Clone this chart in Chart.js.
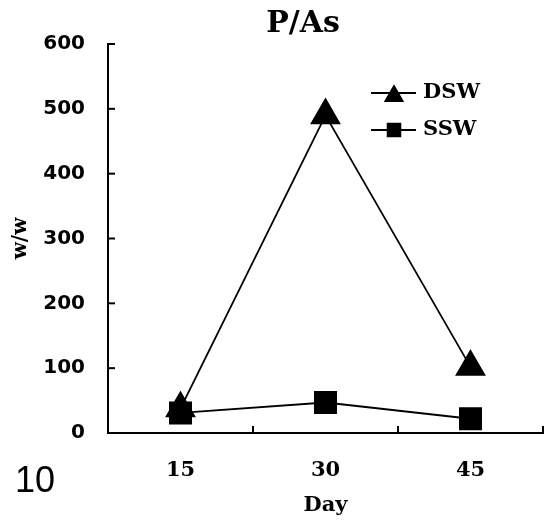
<!DOCTYPE html>
<html><head><meta charset="utf-8">
<script src="https://cdn.jsdelivr.net/npm/chart.js@4/dist/chart.umd.min.js"></script>
<style>
html,body{margin:0;padding:0;background:#fff;}
#wrap{position:relative;width:550px;height:520px;}
#fig{position:absolute;left:15px;top:462px;font:36px "Liberation Sans",Arial,sans-serif;color:#000;line-height:1;}
</style></head><body>
<div id="wrap"><canvas id="c" width="550" height="520"></canvas><div id="fig">10</div></div>
<script>
const days = ['15', '30', '45'];
const dsw = [38, 490, 102];
const ssw = [31, 47, 22];
const yMin = 0, yMax = 600, yStep = 100;
const seriesNames = ['DSW', 'SSW'];
const chartTitle = 'P/As';
const xTitle = 'Day';
const yTitle = 'w/w';

const inwardTicks = {
  id: 'inwardTicks',
  afterDraw(chart) {
    const {ctx, scales: {x, y}} = chart;
    ctx.save();
    ctx.strokeStyle = '#000';
    ctx.lineWidth = 2;
    const L = 7;
    y.ticks.forEach(t => {
      const py = y.getPixelForValue(t.value);
      ctx.beginPath(); ctx.moveTo(y.right, py); ctx.lineTo(y.right + L, py); ctx.stroke();
    });
    for (let i = 1; i <= days.length; i++) {
      const px = x.getPixelForValue(i - 0.5);
      ctx.beginPath(); ctx.moveTo(px, x.top); ctx.lineTo(px, x.top - L); ctx.stroke();
    }
    ctx.restore();
  }
};

const titleAndLegend = {
  id: 'titleAndLegend',
  afterDraw(chart) {
    const ctx = chart.ctx;
    ctx.save();
    ctx.fillStyle = '#000';
    ctx.font = 'bold 30px "DejaVu Serif"';
    ctx.textAlign = 'center';
    ctx.textBaseline = 'middle';
    ctx.fillText(chartTitle, 303, 24);
    chart.data.datasets.forEach((ds, i) => {
      const yy = 93 + i * 37;
      ctx.strokeStyle = '#000'; ctx.fillStyle = '#000'; ctx.lineWidth = 1.8;
      ctx.beginPath(); ctx.moveTo(371, yy); ctx.lineTo(416, yy); ctx.stroke();
      Chart.helpers.drawPoint(ctx, {pointStyle: ds.pointStyle, radius: i === 0 ? 10 : 9, borderWidth: 1, rotation: 0}, 394, yy + (i === 0 ? 3 : 0));
      ctx.font = 'bold 21px "DejaVu Serif"';
      ctx.textBaseline = 'middle';
      ctx.textAlign = 'left';
      ctx.fillText(ds.label, 423, yy);
    });
    ctx.restore();
  }
};

new Chart(document.getElementById('c'), {
  type: 'line',
  data: {
    labels: days,
    datasets: [
      {label: seriesNames[0], data: dsw, pointStyle: 'triangle', pointRadius: 16, borderColor: '#000', backgroundColor: '#000', pointBackgroundColor: '#000', pointBorderColor: '#000', borderWidth: 1.8, tension: 0},
      {label: seriesNames[1], data: ssw, pointStyle: 'rect', pointRadius: 15, borderColor: '#000', backgroundColor: '#000', pointBackgroundColor: '#000', pointBorderColor: '#000', borderWidth: 1.8, tension: 0}
    ]
  },
  options: {
    responsive: false,
    animation: false,
    devicePixelRatio: 1,
    events: [],
    layout: {autoPadding: false, padding: {left: 0, right: 7, top: 44, bottom: 0}},
    plugins: {
      legend: {display: false},
      tooltip: {enabled: false},
      title: {display: false}
    },
    scales: {
      x: {
        type: 'category',
        offset: true,
        grid: {display: true, offset: true, drawOnChartArea: false, drawTicks: false},
        border: {display: true, color: '#000', width: 2},
        ticks: {color: '#000', font: {family: 'DejaVu Serif', weight: 'bold', size: 21}, padding: 25},
        title: {display: true, text: xTitle, color: '#000', font: {family: 'DejaVu Serif', weight: 'bold', size: 21}, padding: {top: 0, bottom: 2}},
        afterFit(s) { s.height = 87; }
      },
      y: {
        min: yMin, max: yMax,
        grid: {display: true, drawOnChartArea: false, drawTicks: false},
        border: {display: true, color: '#000', width: 2},
        ticks: {stepSize: yStep, color: '#000', font: {family: 'DejaVu Sans', weight: 'bold', size: 20}, padding: 23},
        title: {display: true, text: yTitle, color: '#000', font: {family: 'DejaVu Serif', weight: 'bold', size: 20}, padding: {top: 9, bottom: 0}},
        afterFit(s) { s.width = 108; }
      }
    }
  },
  plugins: [inwardTicks, titleAndLegend]
});
</script>
</body></html>
